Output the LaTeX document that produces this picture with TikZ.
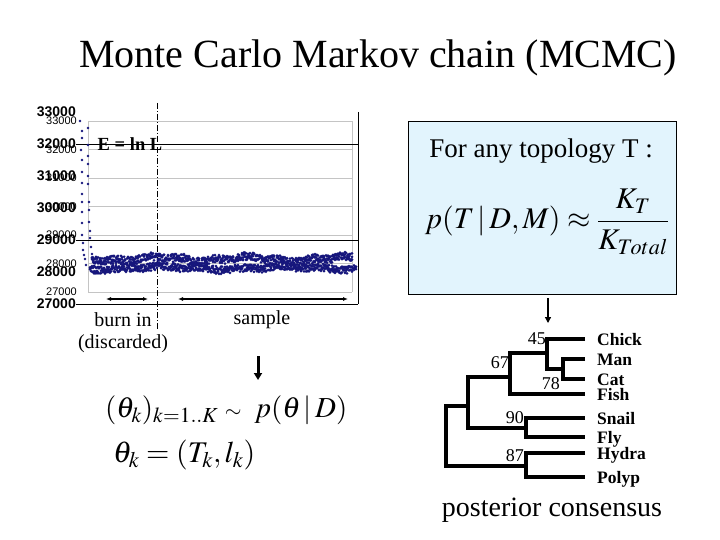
\documentclass[tikz,border=0pt]{standalone}
\usepackage{mathptmx}
\usepackage{fontspec}
\setmainfont{Liberation Serif}
\newfontfamily\chartfont{Liberation Sans}
\usetikzlibrary{arrows.meta, positioning}
\definecolor{mcNavy}{HTML}{16167C}
\definecolor{mcGrid}{HTML}{C4C4C4}
\definecolor{mcBox}{HTML}{E2F4FD}

\begin{document}
\begin{tikzpicture}[x=1pt, y=-1pt,
  every node/.style={inner sep=0pt},
  axbold/.style={anchor=east, font=\chartfont\bfseries\fontsize{14}{14}\selectfont},
  axsmall/.style={anchor=east, font=\chartfont\fontsize{11}{11}\selectfont},
  frameline/.style={line width=0.9pt},
  branch/.style={line width=3.6pt},
  leaf/.style={font=\bfseries\fontsize{17.5}{18}\selectfont, text height=12pt, text depth=0pt},
  support/.style={anchor=east, font=\fontsize{18}{18}\selectfont},
  txt/.style={font=\fontsize{20}{20}\selectfont},
  bigmath/.style={font=\fontsize{29}{29}\selectfont}
]
  \useasboundingbox[fill=white] (0,0) rectangle (720,540);

  \node[font=\fontsize{40}{40}\selectfont] (title) at (378,58) {Monte Carlo Markov chain (MCMC)};

  % energy trace
  \foreach \i in {0,...,6}
    \draw[mcGrid] (88,{121+28.5*\i}) -- (352,{121+28.5*\i});
  \draw[mcGrid] (88,121) -- (88,292) (352,121) -- (352,292);
  \foreach \v [count=\i from 0] in {33000,32000,31000,30000,29000,28000,27000}
    \node[axsmall] (s\v) at (77,{121+28.5*\i}) {\v};
  \foreach \v [count=\i from 0] in {33000,32000,31000,30000,29000,28000,27000}
    \node[axbold] (b\v) at (76,{112+32*\i}) {\v};

  \coordinate (rtop) at (358,112);
  \coordinate (rbot) at (358,304);
  \draw[frameline] (rtop) -- (rbot);
  \foreach \v in {32000,29000,27000}
    \draw[frameline] (b\v.east) -- (b\v.east -| rtop);

  \coordinate (cuttop) at (157,103);
  \coordinate (cutbot) at (157,330);
  \draw[dash pattern=on 6pt off 2pt on 1pt off 2pt] (cuttop) -- (cutbot);

  \foreach \xx/\yy in {80/121,82/131,82/138,81/150,82/160,82/172,82/183,82/194,82/202,82/212,82/223,
                       82/235,83/243,83/250,84/255,85/259,86/265,
                       88/128,88/145,88/156,88/164,88/176,88/184,89/202,89/210,89/222,90/231,
                       90/238,91/247,92/254,93/262}
    \fill[mcNavy] (\xx,\yy) circle (1.4);
  \pgfmathsetseed{11}
  \foreach \i in {0,...,260} {
    \pgfmathsetmacro\xa{92+\i}
    \pgfmathsetmacro\yc{259+1.8*sin(\i*4)+1.2*sin(\i*11)}
    \fill[mcNavy] (\xa,{\yc+4*rand}) circle (1.5) (\xa,{\yc+4*rand}) circle (1.5)
                  (\xa,{\yc+4*rand}) circle (1.5);
  }
  \foreach \i in {0,...,266} {
    \pgfmathsetmacro\xa{90+\i}
    \pgfmathsetmacro\yc{268+1.3*sin(\i*3+40)+1*sin(\i*9)}
    \fill[mcNavy] (\xa,{\yc+3.8*rand}) circle (1.5) (\xa,{\yc+3.8*rand}) circle (1.5)
                  (\xa,{\yc+3.8*rand}) circle (1.5);
  }

  \node[font=\bfseries\fontsize{18.5}{18.5}\selectfont] (energy) at (130,144) {E = ln L};

  \coordinate (burnL) at (106,299);
  \coordinate (burnR) at (148,299);
  \coordinate (sampL) at (178,299);
  \coordinate (sampR) at (348,299);
  \draw[{Latex[length=5pt,width=4pt]}-{Latex[length=5pt,width=4pt]}, line width=1.4pt] (burnL) -- (burnR);
  \draw[{Latex[length=5pt,width=4pt]}-{Latex[length=5pt,width=4pt]}, line width=1.4pt] (sampL) -- (sampR);

  \node[txt] (burn) at (123,320) {burn in};
  \node[txt] (disc) at (123,344) {(discarded)};
  \node[txt] (samp) at (262,320) {sample};

  \coordinate (sampA) at (258,356);
  \coordinate (sampB) at (258,380);
  \draw[-{Triangle[length=7pt,width=8pt]}, line width=3pt] (sampA) -- (sampB);

  \node[bigmath, anchor=west] (chain) at (105,410) {$(\theta_k)_{k=1..K}\;{\scriptstyle\sim}\;\; p(\theta\,|\,D)$};
  \node[bigmath, font=\fontsize{30}{30}\selectfont, anchor=west] (theta) at (113,455) {$\theta_k=(T_k,l_k)$};

  % posterior box
  \node[draw, line width=0.8pt, fill=mcBox, minimum width=268pt, minimum height=173pt] (postbox) at (542,207.5) {};
  \node[font=\fontsize{27}{27}\selectfont] (anyT) at (541,151) {For any topology T :};
  \node[font=\fontsize{30}{30}\selectfont] (ratio) at (547,222) {$p(T\,|\,D,M)\approx\displaystyle\frac{K_T}{K_{Total}}$};

  \coordinate (boxA) at (548,298);
  \coordinate (boxB) at (548,323);
  \draw[-{Triangle[length=6pt,width=6pt]}, line width=1.3pt] (boxA) -- (boxB);

  % consensus tree
  \foreach \nm/\yy/\lbl in {chick/339/Chick, man/359/Man, cat/379/Cat, fish/394/Fish,
                            snail/418/Snail, fly/437/Fly, hydra/453/Hydra, polyp/477/Polyp} {
    \coordinate (t\nm) at (585,\yy);
    \node[leaf, right=12pt of t\nm] (\nm) {\lbl};
  }
  \coordinate (nMC) at (563,369);
  \coordinate (n45) at (547,353);
  \coordinate (n67) at (510,377);
  \coordinate (n90) at (526,428);
  \coordinate (n87) at (526,466);
  \coordinate (nUp) at (468,406);
  \coordinate (nRoot) at (446,436);
  \draw[branch] (tman) -| (nMC) |- (tcat);
  \draw[branch] (tchick) -| (n45) |- (nMC);
  \draw[branch] (n45) -| (n67) |- (tfish);
  \draw[branch] (tsnail) -| (n90) |- (tfly);
  \draw[branch] (thydra) -| (n87) |- (tpolyp);
  \draw[branch] (n67) -| (nUp) |- (n90);
  \draw[branch] (nUp) -| (nRoot) |- (n87);

  \node[support] (l45) at (546,339) {45};
  \node[support] (l67) at (509,363) {67};
  \node[support] (l78) at (560,384) {78};
  \node[support] (l90) at (524,418) {90};
  \node[support] (l87) at (524,456) {87};

  \node[font=\fontsize{28}{28}\selectfont] (consensus) at (552,510) {posterior consensus};
\end{tikzpicture}
\end{document}
